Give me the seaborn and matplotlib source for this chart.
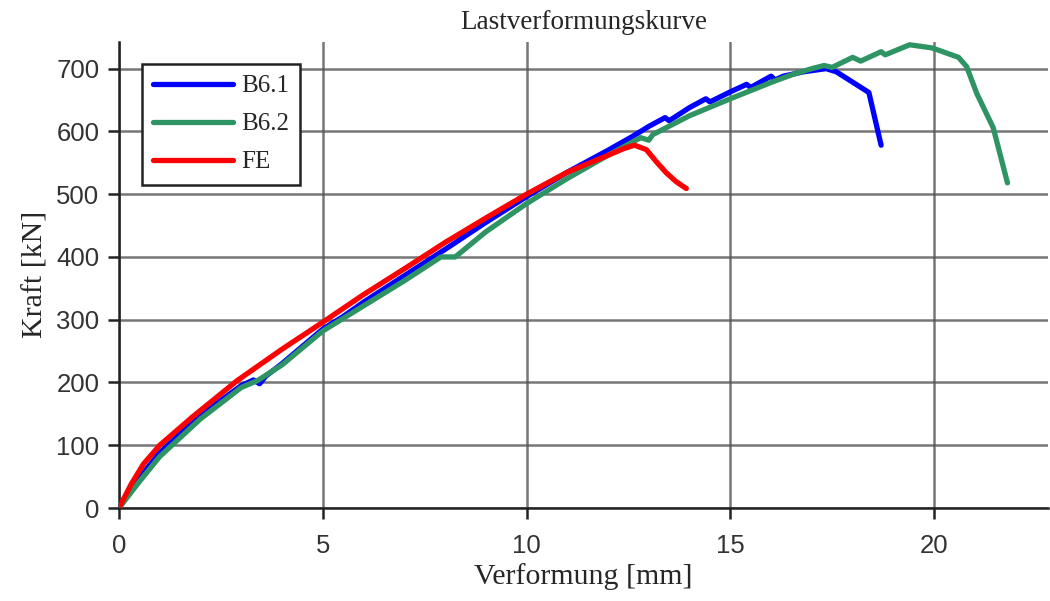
import pandas as pd
import seaborn as sns
import matplotlib.pyplot as plt

# Messwerte B6.1
b61_x = [0, 0.5, 1.0, 2.0, 3.0, 3.3, 3.45, 3.6, 4.0, 5.0, 5.5, 6.0, 7.0, 8.0, 9.0, 10.0, 11.0,
         12.0, 12.6, 13.0, 13.4, 13.5, 14.0, 14.4, 14.5, 15.0, 15.4, 15.5, 16.0, 16.1, 16.3,
         16.8, 17.35, 17.6, 18.4, 18.55, 18.7]
b61_y = [0, 48, 88, 148, 195, 204, 198, 210, 230, 285, 305, 328, 370, 412, 455, 496, 535,
         570, 592, 608, 622, 617, 638, 652, 647, 663, 675, 670, 688, 682, 688,
         695, 700, 695, 662, 620, 578]

# Messwerte B6.2
b62_x = [0, 0.5, 1.0, 2.0, 3.0, 3.4, 4.0, 5.0, 6.0, 7.0, 7.9, 8.25, 9.0, 10.0, 11.0, 12.0,
         12.8, 13.0, 13.1, 14.0, 15.0, 16.0, 16.5, 17.0, 17.3, 17.5, 18.0, 18.2, 18.7, 18.8,
         19.4, 19.95, 20.6, 20.8, 21.05, 21.45, 21.8]
b62_y = [0, 42, 82, 142, 192, 203, 228, 282, 322, 362, 400, 400, 440, 485, 525, 562,
         590, 586, 595, 625, 652, 678, 690, 700, 705, 702, 718, 712, 727, 722,
         738, 733, 718, 703, 660, 606, 518]

# FE Berechnung
fe_x = [0, 0.3, 0.6, 1.0, 1.8, 2.9, 4.0, 5.0, 6.0, 7.0, 8.0, 9.0, 10.0, 11.0, 12.0, 12.4, 12.65,
        12.94, 13.18, 13.43, 13.67, 13.92]
fe_y = [0, 38, 70, 100, 145, 203, 253, 296, 340, 381, 423, 462, 500, 535, 562, 573, 578,
        571, 552, 534, 520, 509]

series = ["B6.1", "B6.2", "FE"]
colors = ["#0000ff", "#2e9463", "#ff0000"]

df = pd.concat([
    pd.DataFrame({"x": b61_x, "y": b61_y, "Serie": "B6.1"}),
    pd.DataFrame({"x": b62_x, "y": b62_y, "Serie": "B6.2"}),
    pd.DataFrame({"x": fe_x, "y": fe_y, "Serie": "FE"}),
], ignore_index=True)

sns.set_theme(style="white")
serif = ["Liberation Serif", "DejaVu Serif"]
plt.rcParams["font.family"] = ["Liberation Sans", "DejaVu Sans"]

fig = plt.figure(figsize=(10.5, 6.01), dpi=100)
ax = fig.add_axes([0.1133, 0.1547, 0.885, 0.776])

sns.lineplot(data=df, x="x", y="y", hue="Serie", hue_order=series,
             palette=dict(zip(series, colors)), sort=False, estimator=None,
             linewidth=3.8, ax=ax)

ax.set_xlim(0, 22.8)
ax.set_ylim(0, 743)
ax.set_xticks([0, 5, 10, 15, 20])
ax.set_yticks(range(0, 701, 100))
ax.grid(True, color="#555555", linewidth=1.8, alpha=0.8)
ax.set_axisbelow(True)

for s in ["top", "right"]:
    ax.spines[s].set_visible(False)
for s in ["left", "bottom"]:
    ax.spines[s].set_color("#222222")
    ax.spines[s].set_linewidth(1.8)
    ax.spines[s].set_zorder(1)

ax.tick_params(axis="both", direction="out", length=8, width=1.8, color="#222222",
               labelsize=18.5, labelcolor="#333333", bottom=True, left=True)
ax.tick_params(axis="x", pad=11)
ax.tick_params(axis="y", pad=6)

ax.set_title("Lastverformungskurve", family=serif, fontsize=19.5, pad=9)
ax.set_xlabel("Verformung [mm]", family=serif, fontsize=21.5, labelpad=3)
ax.set_ylabel("Kraft [kN]", family=serif, fontsize=21.5, labelpad=6)

leg = ax.legend(loc="upper left", bbox_to_anchor=(0.0248, 0.953), borderaxespad=0,
                prop={"family": serif, "size": 18}, frameon=True, fancybox=False,
                handlelength=3.2, handletextpad=0.3, borderpad=0.45, labelspacing=0.62)
leg.get_frame().set_edgecolor("#222222")
leg.get_frame().set_linewidth(1.8)
leg.get_frame().set_alpha(1)

fig.savefig("out.png", dpi=100)
